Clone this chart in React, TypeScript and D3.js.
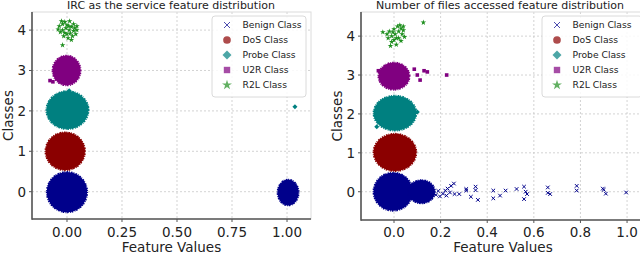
import * as d3 from "d3";

// class names and colours (legend order)
const classes = ["Benign Class", "DoS Class", "Probe Class", "U2R Class", "R2L Class"];
const classColors = ["#00008b", "#8b0000", "#008080", "#800080", "#1f8f1f"];
const classShapes = ["x", "circle", "diamond", "square", "star"];

const yTicks = [0, 1, 2, 3, 4];
const xTicksLeft = [0, 0.25, 0.5, 0.75, 1.0];
const xTickLabelsLeft = ["0.00", "0.25", "0.50", "0.75", "1.00"];
const xTicksRight = [0, 0.2, 0.4, 0.6, 0.8, 1.0];
const xTickLabelsRight = ["0.0", "0.2", "0.4", "0.6", "0.8", "1.0"];

// dense clusters: [class, centre x, centre y, spread x, spread y]
const blobsLeft: [number, number, number, number, number][] = [
  [0, 0.0, -0.01, 0.092, 0.5],
  [0, 1.005, -0.02, 0.048, 0.32],
  [1, -0.008, 1.0, 0.09, 0.47],
  [2, 0.002, 2.02, 0.096, 0.47],
  [3, -0.002, 3.0, 0.064, 0.37],
];
const blobsRight: [number, number, number, number, number][] = [
  [0, -0.004, 0.0, 0.084, 0.49],
  [0, 0.118, 0.0, 0.058, 0.3],
  [1, 0.004, 1.01, 0.092, 0.48],
  [2, 0.004, 2.02, 0.092, 0.45],
  [3, 0.0, 2.97, 0.067, 0.35],
];

// sparse points [class, x, y]
const pointsLeft: [number, number, number][] = [
  [2, 1.036, 2.1], [2, 0.09, 2.1], [2, 0.01, 2.5],
  [3, -0.077, 2.75], [3, -0.064, 2.72],
  [4, -0.035, 4.1], [4, -0.03, 3.95], [4, -0.02, 4.15], [4, -0.02, 4.0], [4, -0.015, 3.85],
  [4, -0.01, 4.2], [4, -0.005, 4.05], [4, 0.0, 3.9], [4, 0.0, 4.12], [4, 0.005, 3.8],
  [4, 0.01, 4.0], [4, 0.012, 4.22], [4, 0.015, 3.92], [4, 0.02, 4.08], [4, 0.025, 3.85],
  [4, 0.03, 4.15], [4, 0.03, 3.98], [4, 0.035, 4.05], [4, 0.04, 3.9], [4, 0.045, 4.1],
  [4, -0.025, 4.22], [4, 0.02, 3.76], [4, -0.01, 3.93], [4, 0.008, 4.1], [4, 0.045, 4.0],
  [4, -0.04, 4.02], [4, -0.02, 3.63],
];
const pointsRight: [number, number, number][] = [
  [0, 0.18, -0.08], [0, 0.19, 0.02], [0, 0.197, -0.12], [0, 0.21, -0.05], [0, 0.22, 0.03],
  [0, 0.225, -0.1], [0, 0.23, 0.08], [0, 0.24, -0.02], [0, 0.245, 0.15], [0, 0.257, 0.21],
  [0, 0.26, -0.06], [0, 0.28, -0.06], [0, 0.31, 0.07], [0, 0.31, 0.03], [0, 0.33, -0.13],
  [0, 0.35, 0.13], [0, 0.35, 0.04], [0, 0.36, -0.21], [0, 0.426, 0.03], [0, 0.426, -0.17],
  [0, 0.455, -0.1], [0, 0.479, 0.03], [0, 0.526, 0.07], [0, 0.558, 0.13], [0, 0.558, -0.19],
  [0, 0.565, 0.0], [0, 0.571, -0.06], [0, 0.66, 0.11], [0, 0.66, -0.03], [0, 0.67, -0.06],
  [0, 0.784, 0.15], [0, 0.784, 0.03], [0, 0.896, 0.08], [0, 0.9, 0.05], [0, 0.909, -0.05],
  [0, 0.996, -0.02],
  [2, -0.074, 1.67], [2, 0.1, 2.05],
  [3, 0.087, 3.15], [3, 0.1, 3.0], [3, 0.112, 2.87], [3, 0.129, 3.11], [3, 0.143, 3.08],
  [3, 0.226, 3.0], [3, -0.067, 3.11],
  [4, -0.048, 4.1], [4, -0.03, 4.05], [4, -0.025, 3.95], [4, -0.02, 4.12], [4, -0.01, 3.85],
  [4, -0.01, 4.0], [4, 0.0, 4.18], [4, 0.0, 3.9], [4, 0.005, 4.05], [4, 0.01, 3.78],
  [4, 0.015, 4.25], [4, 0.02, 3.95], [4, 0.02, 4.12], [4, 0.03, 4.2], [4, 0.03, 3.88],
  [4, 0.035, 4.05], [4, 0.04, 4.15], [4, 0.045, 3.98], [4, -0.015, 3.75], [4, 0.025, 4.28],
  [4, -0.005, 4.1], [4, 0.01, 3.95], [4, 0.04, 4.25], [4, 0.126, 4.35],
];

const FONT = "DejaVu Sans, sans-serif";

function Marker({ shape, x, y, s, color, opacity = 1 }: any) {
  if (shape === "x")
    return (
      <path
        d={`M${x - s},${y - s}L${x + s},${y + s}M${x - s},${y + s}L${x + s},${y - s}`}
        stroke={color}
        strokeWidth={1}
        opacity={opacity}
        fill="none"
      />
    );
  if (shape === "circle") return <circle cx={x} cy={y} r={s * 1.2} fill={color} opacity={opacity} />;
  if (shape === "square")
    return <rect x={x - s} y={y - s} width={2 * s} height={2 * s} fill={color} opacity={opacity} />;
  if (shape === "diamond")
    return (
      <path
        d={`M${x},${y - s * 1.4}L${x + s * 1.4},${y}L${x},${y + s * 1.4}L${x - s * 1.4},${y}Z`}
        fill={color}
        opacity={opacity}
      />
    );
  const star = d3.symbol(d3.symbolStar, s * s * 3)();
  return <path d={star as string} transform={`translate(${x},${y})`} fill={color} opacity={opacity} />;
}

function Panel({ cfg }: any) {
  const x = d3.scaleLinear().domain(cfg.xDomain).range([cfg.left, cfg.right]);
  const y = d3.scaleLinear().domain(cfg.yDomain).range([cfg.bottom, cfg.top]);
  return (
    <g fontFamily={FONT}>
      {/* grid */}
      {cfg.xTicks.map((t: number) => (
        <line key={"gx" + t} x1={x(t)} x2={x(t)} y1={cfg.top} y2={cfg.bottom} stroke="#c8c8c8" strokeWidth={0.8} strokeDasharray="2,2" />
      ))}
      {yTicks.map((t) => (
        <line key={"gy" + t} x1={cfg.left} x2={cfg.right} y1={y(t)} y2={y(t)} stroke="#c8c8c8" strokeWidth={0.8} strokeDasharray="2,2" />
      ))}
      {/* light frame */}
      <rect x={cfg.left} y={cfg.top} width={cfg.right - cfg.left} height={cfg.bottom - cfg.top} fill="none" stroke="#dcdcdc" strokeWidth={1} />
      {/* dense clusters */}
      {cfg.blobs.map((b: number[], i: number) => {
        const [c, cx, cy, sx, sy] = b;
        return (
          <ellipse
            key={"b" + i}
            cx={x(cx)}
            cy={y(cy)}
            rx={x(cx + sx) - x(cx)}
            ry={y(cy) - y(cy + sy)}
            fill={classColors[c]}
            stroke={classColors[c]}
            strokeWidth={1.8}
            strokeDasharray="0.9,1.3,1.6,0.8"
          />
        );
      })}
      {/* sparse points */}
      {cfg.points.map((p: number[], i: number) => (
        <Marker key={"p" + i} shape={classShapes[p[0]]} x={x(p[1])} y={y(p[2])} s={p[0] === 0 ? 1.8 : 1.8} color={classColors[p[0]]} />
      ))}
      {/* spines */}
      <line x1={cfg.left} x2={cfg.left} y1={cfg.top} y2={cfg.bottom + 0.75} stroke="#555" strokeWidth={1.6} />
      <line x1={cfg.left} x2={cfg.right} y1={cfg.bottom} y2={cfg.bottom} stroke="#555" strokeWidth={1.6} />
      {/* ticks */}
      {cfg.xTicks.map((t: number, i: number) => (
        <g key={"tx" + t}>
          <line x1={x(t)} x2={x(t)} y1={cfg.bottom} y2={cfg.bottom + 3} stroke="#555" />
          <text x={x(t)} y={236.5} fontSize={13.5} textAnchor="middle" fill="#222">
            {cfg.xLabels[i]}
          </text>
        </g>
      ))}
      {yTicks.map((t) => (
        <g key={"ty" + t}>
          <line x1={cfg.left - 3} x2={cfg.left} y1={y(t)} y2={y(t)} stroke="#555" />
          <text x={cfg.left - 6} y={y(t)} dy="0.36em" fontSize={13.5} textAnchor="end" fill="#222">
            {t}
          </text>
        </g>
      ))}
      {/* labels */}
      <text x={(cfg.left + cfg.right) / 2} y={251.5} fontSize={13.5} textAnchor="middle" fill="#222">
        Feature Values
      </text>
      <text transform={`translate(${cfg.left - 19},${(cfg.top + cfg.bottom) / 2}) rotate(-90)`} fontSize={13.5} textAnchor="middle" fill="#222">
        Classes
      </text>
      <text x={cfg.titleX} y={8.5} fontSize={11} textAnchor="middle" fill="#222">
        {cfg.title}
      </text>
      {/* legend */}
      <rect x={cfg.legendX} y={16} width={cfg.legendW} height={81} rx={3} fill="white" fillOpacity={0.85} stroke="#d0d0d0" strokeWidth={0.8} />
      {classes.map((name, i) => (
        <g key={name}>
          <Marker shape={classShapes[i]} x={cfg.legendX + 15} y={25 + i * 15} s={i === 0 ? 3 : 3.2} color={classColors[i]} opacity={0.7} />
          <text x={cfg.legendX + 30.5} y={25 + i * 15} dy="0.36em" fontSize={9.2} fill="#222">
            {name}
          </text>
        </g>
      ))}
    </g>
  );
}

const leftCfg = {
  left: 32, right: 311, top: 12, bottom: 219,
  xDomain: [-0.159, 1.109], yDomain: [-0.676, 4.448],
  xTicks: xTicksLeft, xLabels: xTickLabelsLeft,
  blobs: blobsLeft, points: pointsLeft,
  title: "IRC as the service feature distribution", titleX: 171,
  legendX: 212, legendW: 94,
};
const rightCfg = {
  left: 361, right: 645, top: 12, bottom: 220,
  xDomain: [-0.1416, 1.077], yDomain: [-0.727, 4.62],
  xTicks: xTicksRight, xLabels: xTickLabelsRight,
  blobs: blobsRight, points: pointsRight,
  title: "Number of files accessed feature distribution", titleX: 500,
  legendX: 542, legendW: 100,
};

export default function App() {
  return (
    <svg width={640} height={253} style={{ position: "absolute", left: 0, top: 0, background: "white" }}>
      <rect width={640} height={253} fill="white" />
      <Panel cfg={leftCfg} />
      <Panel cfg={rightCfg} />
    </svg>
  );
}
